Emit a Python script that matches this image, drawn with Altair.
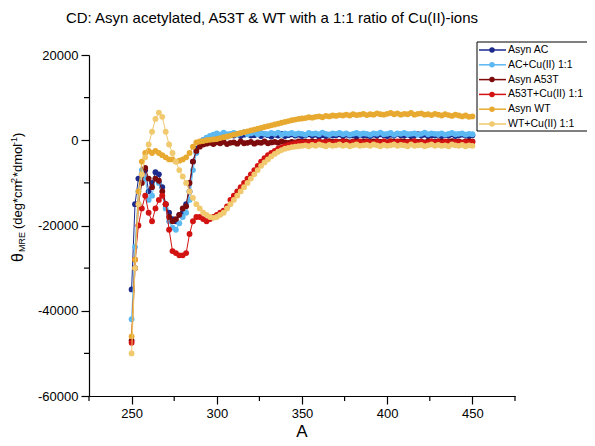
import altair as alt
import pandas as pd

# ---------------- data ----------------
wavelength = list(range(250, 451, 2))

asyn_ac = [
    -35000, -15000, -9000, -8000, -7000, -12000, -10000, -7500, -8000, -11000,
    -15000, -17000, -18500, -19000, -17500, -17000, -15000, -12000, -5000, -2000,
    -500, 0, 500, 800, 1000, 1200, 1000, 1400, 900, 1300,
    1100, 1500, 1000, 1300, 1600, 1100, 1200, 1500, 1000, 1400,
    1200, 900, 1300, 1100, 1500, 1000, 1200, 1400, 1100, 1300,
    1000, 1200, 1400, 1100, 1300, 900, 1200, 1000, 1300, 1100,
    1200, 1400, 1000, 1300, 1100, 1200, 900, 1300, 1100, 1200,
    1000, 1300, 1100, 1400, 1200, 1000, 1300, 1100, 1500, 1200,
    1100, 1300, 1000, 1200, 1400, 1100, 1300, 1000, 1200, 1100,
    1300, 1000, 1200, 1100, 1400, 1000, 1200, 1300, 1100, 1000,
    1200,
]
ac_cu = [
    -42000, -25000, -12000, -7000, -9000, -14000, -13000, -9000, -10000, -13000,
    -16000, -19000, -20500, -21000, -19500, -18000, -17000, -14000, -7000, -3000,
    -1000, 0, 600, 1000, 1300, 1600, 1300, 1800, 1400, 1500,
    1700, 1300, 1600, 1900, 1400, 1600, 1800, 1400, 1700, 1500,
    1400, 1700, 1500, 1800, 1300, 1600, 1500, 1700, 1400, 1600,
    1500, 1300, 1700, 1500, 1600, 1400, 1800, 1500, 1300, 1600,
    1500, 1700, 1400, 1600, 1300, 1500, 1700, 1400, 1600, 1500,
    1300, 1600, 1500, 1800, 1400, 1500, 1700, 1300, 1600, 1500,
    1700, 1400, 1500, 1600, 1300, 1500, 1800, 1400, 1600, 1500,
    1400, 1600, 1300, 1500, 1700, 1400, 1500, 1600, 1300, 1500,
    1400,
]
asyn_a53t = [
    -47000, -30000, -15000, -10000, -6500, -9000, -11000, -9000, -9500, -12000,
    -15000, -18000, -19000, -18500, -17500, -16000, -15500, -10000, -5000, -2500,
    -1500, -1000, -800, -600, -900, -500, -700, -400, -900, -600,
    -500, -800, -300, -700, -600, -400, -800, -500, -600, -300,
    -700, -500, -400, -600, -300, -500, -600, -400, -500, -300,
    -400, -300, -500, -200, -400, -300, -500, -300, -200, -400,
    -300, -400, -200, -300, -500, -300, -200, -400, -300, -200,
    -400, -300, -200, -400, -300, -500, -200, -300, -400, -200,
    -300, -400, -300, -200, -400, -300, -500, -200, -300, -400,
    -200, -300, -400, -300, -200, -400, -300, -500, -300, -200,
    -300,
]
a53t_cu = [
    -47500, -28000, -20000, -16000, -13000, -17000, -19000, -16000, -14000, -13000,
    -15000, -21000, -26000, -26500, -27000, -27000, -26500, -22000, -19000, -18000,
    -18000, -18500, -19000, -18500, -18000, -17500, -17000, -16500, -15500, -14000,
    -13000, -12000, -11000, -10000, -9000, -8000, -7000, -6000, -5000, -4200,
    -3500, -3000, -2500, -2000, -1700, -1400, -1100, -900, -700, -600,
    -500, -600, -400, -700, -500, -300, -600, -400, -500, -700,
    -400, -600, -300, -500, -700, -400, -500, -300, -600, -400,
    -500, -700, -400, -600, -300, -500, -400, -600, -300, -500,
    -600, -400, -500, -300, -700, -400, -600, -500, -300, -500,
    -400, -600, -300, -500, -700, -400, -500, -600, -400, -500,
    -400,
]
asyn_wt = [
    -46000, -28000, -12000, -5000, -3000, -2500, -3000, -2500, -3000, -3500,
    -4000, -4500, -4500, -5000, -4800, -4500, -4000, -3000, -1500, -500,
    -300, -200, 0, 100, 200, 300, 500, 700, 900, 1100,
    1300, 1500, 1700, 1900, 2100, 2300, 2500, 2700, 2900, 3100,
    3300, 3500, 3700, 3900, 4100, 4300, 4500, 4700, 4850, 5000,
    5100, 5200, 5400, 5300, 5500, 5600, 5400, 5700, 5600, 5800,
    5700, 5900, 5800, 6000, 5800, 6100, 5900, 6000, 6200, 5900,
    6100, 6000, 6300, 6100, 6000, 6200, 6400, 6100, 6300, 6000,
    6200, 6100, 6400, 6000, 6200, 6300, 6000, 6100, 5900, 6200,
    6000, 5800, 6100, 5900, 5700, 6000, 5800, 5600, 5800, 5500,
    5600,
]
wt_cu = [
    -50000, -30000, -15000, -8000, -4000, -1000, 2000, 5000, 6500, 5500,
    2000, -1000, -3000, -5000, -7000, -8500, -10000, -12000, -13500, -15000,
    -16000, -17000, -17500, -18000, -18200, -18000, -17500, -17000, -16000, -15000,
    -14000, -13000, -12000, -11000, -10000, -9000, -8000, -7000, -6000, -5200,
    -4500, -3800, -3200, -2700, -2300, -2000, -1800, -1600, -1500, -1400,
    -1300, -1200, -1400, -1100, -1300, -1000, -1200, -1400, -1100, -1300,
    -1200, -1000, -1300, -1100, -1400, -1200, -1000, -1300, -1200, -1100,
    -1300, -1000, -1200, -1400, -1100, -1300, -1200, -1000, -1300, -1100,
    -1200, -1400, -1000, -1300, -1200, -1100, -1400, -1200, -1000, -1300,
    -1100, -1300, -1200, -1400, -1000, -1200, -1300, -1100, -1400, -1200,
    -1300,
]

series_names = ["Asyn AC", "AC+Cu(II) 1:1", "Asyn A53T", "A53T+Cu(II) 1:1",
                "Asyn WT", "WT+Cu(II) 1:1"]
series_values = [asyn_ac, ac_cu, asyn_a53t, a53t_cu, asyn_wt, wt_cu]
series_colors = ["#1b2a8c", "#5bb8f2", "#7d0b0b", "#d31212", "#e8a930", "#f1c96f"]

x_major = [250, 300, 350, 400, 450]
x_minor = [225, 275, 325, 375, 425, 475]
y_major = [-60000, -40000, -20000, 0, 20000]
y_minor = [-50000, -30000, -10000, 10000]

title_text = "CD: Asyn acetylated, A53T & WT with a 1:1 ratio of Cu(II)-ions"
x_title = "A"

# ---------------- layout ----------------
W, H = 426, 341
FONT = "Liberation Sans"
OX, OY = 89, 55  # page position of plot origin

x_scale = alt.Scale(domain=[225, 475], nice=False, zero=False)
y_scale = alt.Scale(domain=[-60000, 20000], nice=False, zero=False)

x_axis = alt.Axis(values=x_major, title=None, grid=False, tickSize=8, labelPadding=3,
                  labelFontSize=13, labelFont=FONT, labelColor="black",
                  domainColor="black", tickColor="black", domainWidth=1.2,
                  tickWidth=1.2, labelExpr="'' + datum.value", labelFlush=False)
y_axis = alt.Axis(values=y_major, title=None, grid=False, tickSize=8, labelPadding=3,
                  labelFontSize=13, labelFont=FONT, labelColor="black",
                  domainColor="black", tickColor="black", domainWidth=1.2,
                  tickWidth=1.2, labelExpr="'' + datum.value", labelFlush=False)

X = alt.X("wl:Q", scale=x_scale, axis=x_axis)
Y = alt.Y("mre:Q", scale=y_scale, axis=y_axis)

layers = []
for name, vals, col in zip(series_names, series_values, series_colors):
    df = pd.DataFrame({"wl": wavelength, "mre": vals, "series": name})
    base = alt.Chart(df)
    layers.append(base.mark_line(color=col, strokeWidth=1).encode(x=X, y=Y))
    layers.append(base.mark_circle(color=col, size=34, opacity=1).encode(x=X, y=Y))

# minor ticks
minor_x_df = pd.DataFrame({"wl": x_minor})
layers.append(alt.Chart(minor_x_df).mark_rule(color="black", strokeWidth=1.2).encode(
    x=X, y=alt.value(H), y2=alt.value(H + 5)))
minor_y_df = pd.DataFrame({"mre": y_minor})
layers.append(alt.Chart(minor_y_df).mark_rule(color="black", strokeWidth=1.2).encode(
    y=Y, x=alt.value(-5), x2=alt.value(0)))

one = pd.DataFrame({"a": [0]})


def txt(text, px, py, size, angle=0, align="center", baseline="middle"):
    return alt.Chart(one).mark_text(text=text, font=FONT, fontSize=size, color="black",
                                    angle=angle, align=align, baseline=baseline).encode(
        x=alt.value(px), y=alt.value(py))


# chart title
layers.append(txt(title_text, 272 - OX, 18 - OY, 15))
# x axis title
layers.append(txt(x_title, W / 2, 432 - OY, 17))
# y axis title built from pieces (rotated, reading bottom to top)
yx = 18 - OX
pieces = [
    ("θ", 262, 16, 0),
    ("MRE", 252, 9, 4),
    ("(deg*cm", 229, 13, 0),
    ("2", 183, 9, -4),
    ("*dmol", 177, 13, 0),
    ("-1", 145, 9, -4),
    (")", 137, 13, 0),
]
for t, py, size, dx in pieces:
    layers.append(txt(t, yx + dx, py - OY, size, angle=270, align="left"))

# legend
lx0, ly_top, ly_bot = 477, 42, 131
layers.append(alt.Chart(one).mark_rule(color="black", strokeWidth=1).encode(
    x=alt.value(lx0 - OX), x2=alt.value(600 - OX), y=alt.value(ly_top - OY)))
layers.append(alt.Chart(one).mark_rule(color="black", strokeWidth=1).encode(
    x=alt.value(lx0 - OX), x2=alt.value(600 - OX), y=alt.value(ly_bot - OY)))
layers.append(alt.Chart(one).mark_rule(color="black", strokeWidth=1).encode(
    x=alt.value(lx0 - OX), y=alt.value(ly_top - OY), y2=alt.value(ly_bot - OY)))
for i, (name, col) in enumerate(zip(series_names, series_colors)):
    cy = 50 + i * 14.8 - OY
    layers.append(alt.Chart(one).mark_rule(color=col, strokeWidth=1.5).encode(
        x=alt.value(479 - OX), x2=alt.value(506 - OX), y=alt.value(cy)))
    layers.append(alt.Chart(one).mark_circle(color=col, size=30, opacity=1).encode(
        x=alt.value(492 - OX), y=alt.value(cy)))
    layers.append(txt(name, 508 - OX, cy, 10.5, align="left"))

chart = alt.layer(*layers).properties(
    width=W, height=H,
    autosize=alt.AutoSizeParams(type="none"),
    padding={"left": OX - 8, "top": OY - 8, "right": 595 - 8 - OX - W, "bottom": 50},
    background="white",
).configure_view(stroke=None)

chart.save("out.html", embed_options={"renderer": "svg", "actions": False})
